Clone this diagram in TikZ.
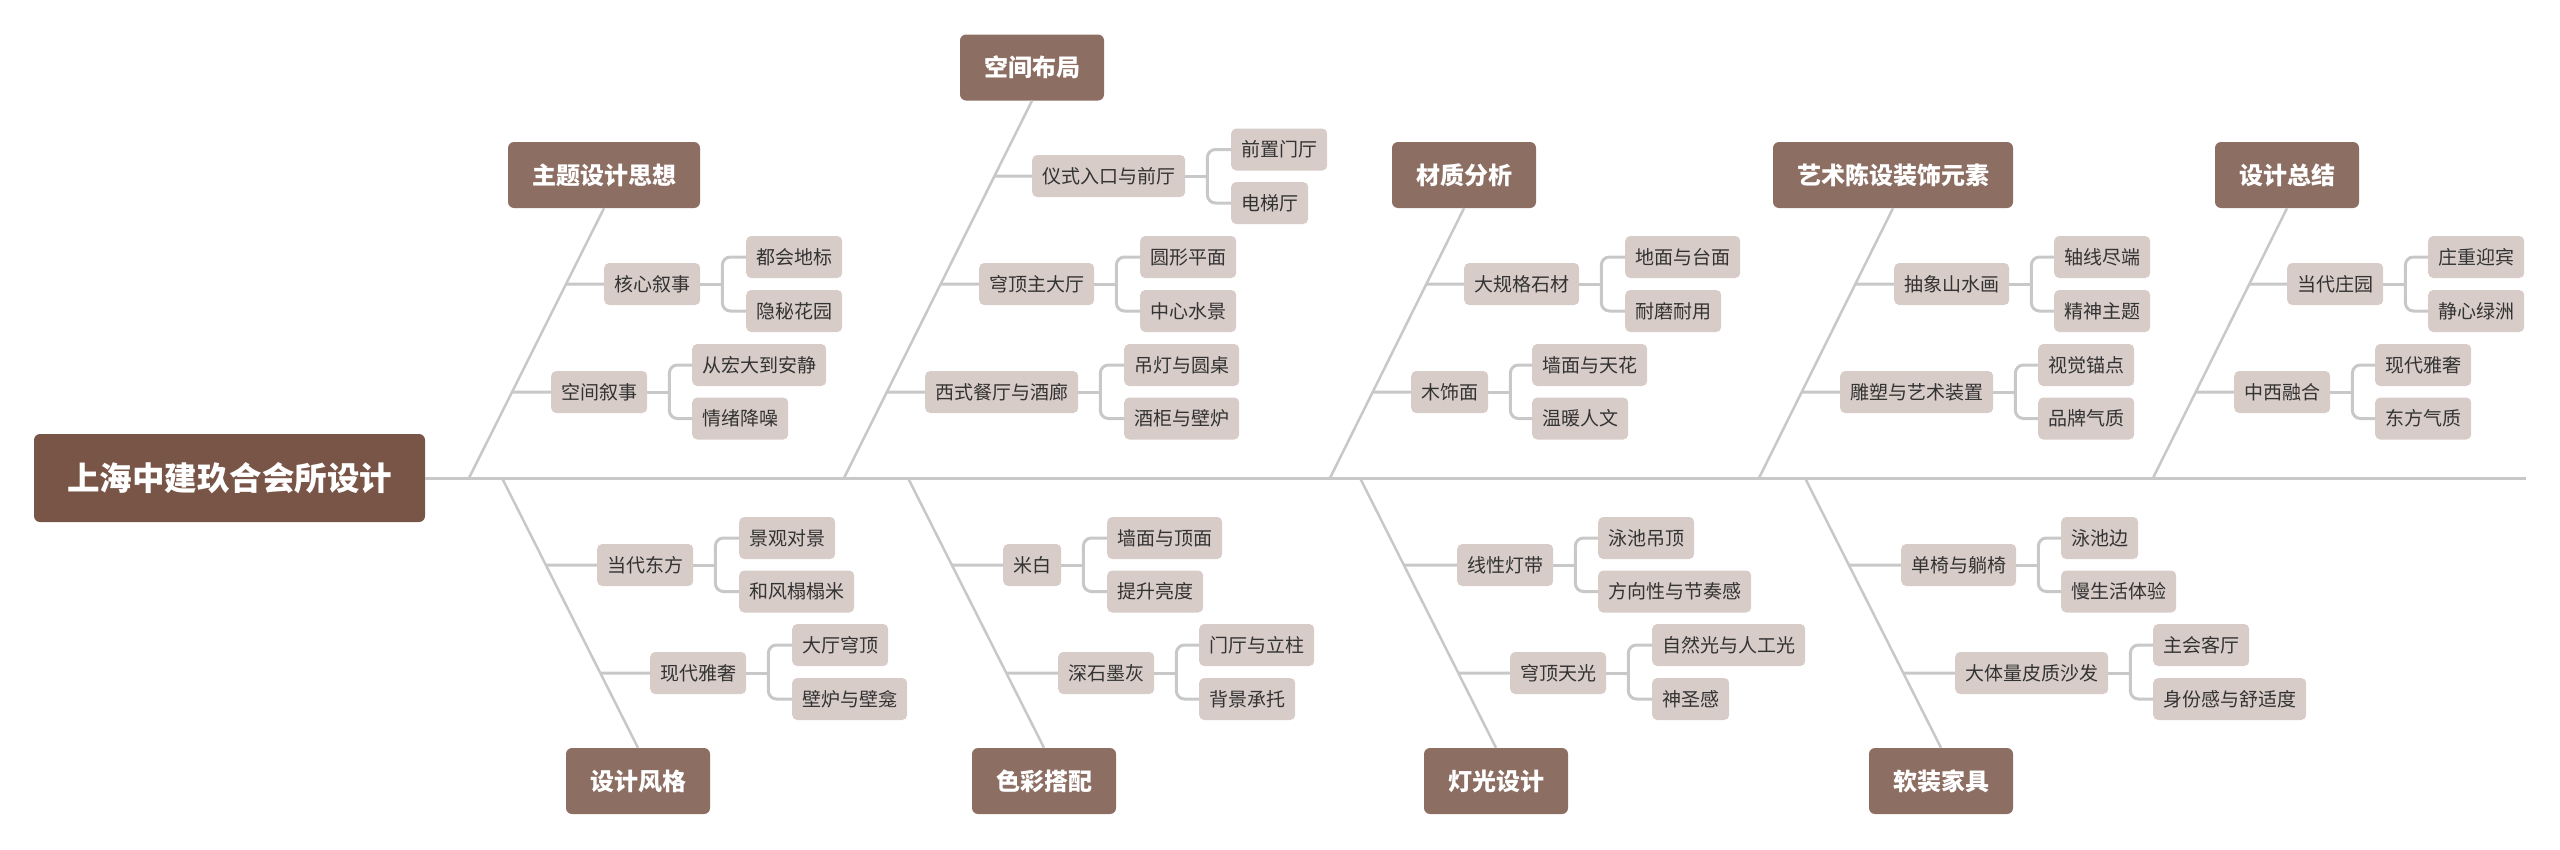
\documentclass[tikz,border=0pt]{standalone}
\usepackage{fontspec}
\setmainfont{Noto Sans CJK SC}
\definecolor{rootbrown}{HTML}{795548}
\definecolor{catbrown}{HTML}{8D6E63}
\definecolor{subpink}{HTML}{D7CCC8}
\definecolor{linegray}{HTML}{C8C8C8}
\definecolor{inkgray}{HTML}{333333}
\begin{document}
\begin{tikzpicture}[x=1pt, y=-1pt,
  root/.style={fill=rootbrown, text=white, rounded corners=6, minimum width=391, minimum height=88, font=\fontsize{32.5pt}{32.5pt}\selectfont\bfseries},
  cat/.style={fill=catbrown, text=white, rounded corners=6, inner xsep=24, minimum height=66, font=\fontsize{24pt}{24pt}\selectfont\bfseries},
  sub/.style={fill=subpink, text=inkgray, rounded corners=5, inner xsep=10, minimum height=42, anchor=west, font=\fontsize{19pt}{19pt}\selectfont},
  leaf/.style={sub},
  spine/.style={draw=linegray, line width=3},
  bone/.style={draw=linegray, line width=2.5},
  link/.style={draw=linegray, line width=3},
  fork/.style={link, rounded corners=8}]
\useasboundingbox (0,0) rectangle (2560,849);

% head and spine
\node[root] (club) at (229.5,478) {上海中建玖合会所设计};
\coordinate (tail) at (2526,478);
\draw[spine] (club.east) -- (tail);

% upper categories
\node[cat] (theme) at (604,175) {主题设计思想};
\node[cat] (layout) at (1032,67.5) {空间布局};
\node[cat] (material) at (1464,175) {材质分析};
\node[cat] (art) at (1893,175) {艺术陈设装饰元素};
\node[cat] (summary) at (2287,175) {设计总结};
\coordinate (jtheme) at (469,478);
\coordinate (jlayout) at (844,478);
\coordinate (jmaterial) at (1330,478);
\coordinate (jart) at (1759,478);
\coordinate (jsummary) at (2153,478);
\draw[bone] (jtheme) -- (theme.south);
\draw[bone] (jlayout) -- (layout.south);
\draw[bone] (jmaterial) -- (material.south);
\draw[bone] (jart) -- (art.south);
\draw[bone] (jsummary) -- (summary.south);

% lower categories
\node[cat] (style) at (638,781) {设计风格};
\node[cat] (colour) at (1044,781) {色彩搭配};
\node[cat] (light) at (1496,781) {灯光设计};
\node[cat] (furn) at (1941,781) {软装家具};
\coordinate (jstyle) at (502,478);
\coordinate (jcolour) at (908,478);
\coordinate (jlight) at (1360,478);
\coordinate (jfurn) at (1805,478);
\draw[bone] (jstyle) -- (style.north);
\draw[bone] (jcolour) -- (colour.north);
\draw[bone] (jlight) -- (light.north);
\draw[bone] (jfurn) -- (furn.north);

% 主题设计思想
\node[sub] (theme1) at (604,284) {核心叙事};
\node[leaf] (theme1a) at (746,257) {都会地标};
\node[leaf] (theme1b) at (746,311) {隐秘花园};
\node[sub] (theme2) at (551,392) {空间叙事};
\node[leaf] (theme2a) at (692,365) {从宏大到安静};
\node[leaf] (theme2b) at (692,418.5) {情绪降噪};
\draw[link] (intersection of jtheme--theme.south and theme1.west--theme1.east) -- (theme1.west);
\draw[link] (intersection of jtheme--theme.south and theme2.west--theme2.east) -- (theme2.west);
\draw[link] (theme1.east) -- ++(22,0) coordinate (theme1f);
\draw[fork] (theme1f) |- (theme1a.west);
\draw[fork] (theme1f) |- (theme1b.west);
\draw[link] (theme2.east) -- ++(22,0) coordinate (theme2f);
\draw[fork] (theme2f) |- (theme2a.west);
\draw[fork] (theme2f) |- (theme2b.west);

% 空间布局
\node[sub] (layout1) at (1032,176) {仪式入口与前厅};
\node[leaf] (layout1a) at (1231,149.5) {前置门厅};
\node[leaf] (layout1b) at (1231,203) {电梯厅};
\node[sub] (layout2) at (979,284) {穹顶主大厅};
\node[leaf] (layout2a) at (1140,257) {圆形平面};
\node[leaf] (layout2b) at (1140,311) {中心水景};
\node[sub] (layout3) at (925,392) {西式餐厅与酒廊};
\node[leaf] (layout3a) at (1124,365) {吊灯与圆桌};
\node[leaf] (layout3b) at (1124,418.5) {酒柜与壁炉};
\draw[link] (intersection of jlayout--layout.south and layout1.west--layout1.east) -- (layout1.west);
\draw[link] (intersection of jlayout--layout.south and layout2.west--layout2.east) -- (layout2.west);
\draw[link] (intersection of jlayout--layout.south and layout3.west--layout3.east) -- (layout3.west);
\draw[link] (layout1.east) -- ++(22,0) coordinate (layout1f);
\draw[fork] (layout1f) |- (layout1a.west);
\draw[fork] (layout1f) |- (layout1b.west);
\draw[link] (layout2.east) -- ++(22,0) coordinate (layout2f);
\draw[fork] (layout2f) |- (layout2a.west);
\draw[fork] (layout2f) |- (layout2b.west);
\draw[link] (layout3.east) -- ++(22,0) coordinate (layout3f);
\draw[fork] (layout3f) |- (layout3a.west);
\draw[fork] (layout3f) |- (layout3b.west);

% 材质分析
\node[sub] (material1) at (1464,284) {大规格石材};
\node[leaf] (material1a) at (1625,257) {地面与台面};
\node[leaf] (material1b) at (1625,311) {耐磨耐用};
\node[sub] (material2) at (1411,392) {木饰面};
\node[leaf] (material2a) at (1532,365) {墙面与天花};
\node[leaf] (material2b) at (1532,418.5) {温暖人文};
\draw[link] (intersection of jmaterial--material.south and material1.west--material1.east) -- (material1.west);
\draw[link] (intersection of jmaterial--material.south and material2.west--material2.east) -- (material2.west);
\draw[link] (material1.east) -- ++(22,0) coordinate (material1f);
\draw[fork] (material1f) |- (material1a.west);
\draw[fork] (material1f) |- (material1b.west);
\draw[link] (material2.east) -- ++(22,0) coordinate (material2f);
\draw[fork] (material2f) |- (material2a.west);
\draw[fork] (material2f) |- (material2b.west);

% 艺术陈设装饰元素
\node[sub] (art1) at (1894,284) {抽象山水画};
\node[leaf] (art1a) at (2054,257) {轴线尽端};
\node[leaf] (art1b) at (2054,311) {精神主题};
\node[sub] (art2) at (1840,392) {雕塑与艺术装置};
\node[leaf] (art2a) at (2038,365) {视觉锚点};
\node[leaf] (art2b) at (2038,418.5) {品牌气质};
\draw[link] (intersection of jart--art.south and art1.west--art1.east) -- (art1.west);
\draw[link] (intersection of jart--art.south and art2.west--art2.east) -- (art2.west);
\draw[link] (art1.east) -- ++(22,0) coordinate (art1f);
\draw[fork] (art1f) |- (art1a.west);
\draw[fork] (art1f) |- (art1b.west);
\draw[link] (art2.east) -- ++(22,0) coordinate (art2f);
\draw[fork] (art2f) |- (art2a.west);
\draw[fork] (art2f) |- (art2b.west);

% 设计总结
\node[sub] (summary1) at (2287,284) {当代庄园};
\node[leaf] (summary1a) at (2428,257) {庄重迎宾};
\node[leaf] (summary1b) at (2428,311) {静心绿洲};
\node[sub] (summary2) at (2234,392) {中西融合};
\node[leaf] (summary2a) at (2375,365) {现代雅奢};
\node[leaf] (summary2b) at (2375,418.5) {东方气质};
\draw[link] (intersection of jsummary--summary.south and summary1.west--summary1.east) -- (summary1.west);
\draw[link] (intersection of jsummary--summary.south and summary2.west--summary2.east) -- (summary2.west);
\draw[link] (summary1.east) -- ++(22,0) coordinate (summary1f);
\draw[fork] (summary1f) |- (summary1a.west);
\draw[fork] (summary1f) |- (summary1b.west);
\draw[link] (summary2.east) -- ++(22,0) coordinate (summary2f);
\draw[fork] (summary2f) |- (summary2a.west);
\draw[fork] (summary2f) |- (summary2b.west);

% 设计风格
\node[sub] (style1) at (597,565) {当代东方};
\node[leaf] (style1a) at (739,538) {景观对景};
\node[leaf] (style1b) at (739,591.5) {和风榻榻米};
\node[sub] (style2) at (650,673) {现代雅奢};
\node[leaf] (style2a) at (792,645) {大厅穹顶};
\node[leaf] (style2b) at (792,699) {壁炉与壁龛};
\draw[link] (intersection of jstyle--style.north and style1.west--style1.east) -- (style1.west);
\draw[link] (intersection of jstyle--style.north and style2.west--style2.east) -- (style2.west);
\draw[link] (style1.east) -- ++(22,0) coordinate (style1f);
\draw[fork] (style1f) |- (style1a.west);
\draw[fork] (style1f) |- (style1b.west);
\draw[link] (style2.east) -- ++(22,0) coordinate (style2f);
\draw[fork] (style2f) |- (style2a.west);
\draw[fork] (style2f) |- (style2b.west);

% 色彩搭配
\node[sub] (colour1) at (1003,565) {米白};
\node[leaf] (colour1a) at (1107,538) {墙面与顶面};
\node[leaf] (colour1b) at (1107,591.5) {提升亮度};
\node[sub] (colour2) at (1058,673) {深石墨灰};
\node[leaf] (colour2a) at (1199,645) {门厅与立柱};
\node[leaf] (colour2b) at (1199,699) {背景承托};
\draw[link] (intersection of jcolour--colour.north and colour1.west--colour1.east) -- (colour1.west);
\draw[link] (intersection of jcolour--colour.north and colour2.west--colour2.east) -- (colour2.west);
\draw[link] (colour1.east) -- ++(22,0) coordinate (colour1f);
\draw[fork] (colour1f) |- (colour1a.west);
\draw[fork] (colour1f) |- (colour1b.west);
\draw[link] (colour2.east) -- ++(22,0) coordinate (colour2f);
\draw[fork] (colour2f) |- (colour2a.west);
\draw[fork] (colour2f) |- (colour2b.west);

% 灯光设计
\node[sub] (light1) at (1457,565) {线性灯带};
\node[leaf] (light1a) at (1598,538) {泳池吊顶};
\node[leaf] (light1b) at (1598,591.5) {方向性与节奏感};
\node[sub] (light2) at (1510,673) {穹顶天光};
\node[leaf] (light2a) at (1652,645) {自然光与人工光};
\node[leaf] (light2b) at (1652,699) {神圣感};
\draw[link] (intersection of jlight--light.north and light1.west--light1.east) -- (light1.west);
\draw[link] (intersection of jlight--light.north and light2.west--light2.east) -- (light2.west);
\draw[link] (light1.east) -- ++(22,0) coordinate (light1f);
\draw[fork] (light1f) |- (light1a.west);
\draw[fork] (light1f) |- (light1b.west);
\draw[link] (light2.east) -- ++(22,0) coordinate (light2f);
\draw[fork] (light2f) |- (light2a.west);
\draw[fork] (light2f) |- (light2b.west);

% 软装家具
\node[sub] (furn1) at (1901,565) {单椅与躺椅};
\node[leaf] (furn1a) at (2061,538) {泳池边};
\node[leaf] (furn1b) at (2061,591.5) {慢生活体验};
\node[sub] (furn2) at (1955,673) {大体量皮质沙发};
\node[leaf] (furn2a) at (2153,645) {主会客厅};
\node[leaf] (furn2b) at (2153,699) {身份感与舒适度};
\draw[link] (intersection of jfurn--furn.north and furn1.west--furn1.east) -- (furn1.west);
\draw[link] (intersection of jfurn--furn.north and furn2.west--furn2.east) -- (furn2.west);
\draw[link] (furn1.east) -- ++(22,0) coordinate (furn1f);
\draw[fork] (furn1f) |- (furn1a.west);
\draw[fork] (furn1f) |- (furn1b.west);
\draw[link] (furn2.east) -- ++(22,0) coordinate (furn2f);
\draw[fork] (furn2f) |- (furn2a.west);
\draw[fork] (furn2f) |- (furn2b.west);
\end{tikzpicture}
\end{document}
